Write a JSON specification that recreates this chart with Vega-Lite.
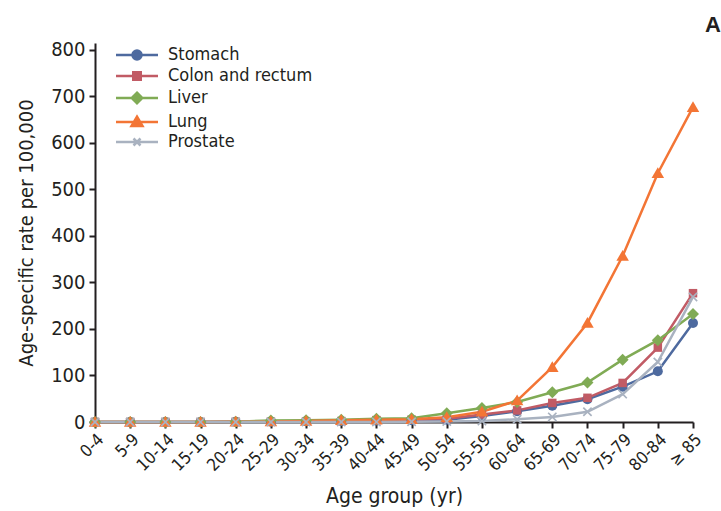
{
  "$schema": "https://vega.github.io/schema/vega-lite/v6.json",
  "width": 598,
  "height": 379,
  "autosize": {"type": "none"},
  "padding": {"left": 95, "top": 43, "right": 28, "bottom": 89},
  "background": "white",
  "title": {"text": "A", "anchor": "end", "frame": "group", "dx": 28, "offset": 3, "fontSize": 22, "fontWeight": "bold", "font": "Liberation Sans", "color": "#231f20"},
  "config": {
    "view": {"stroke": null},
    "font": "'Liberation Sans Narrow', 'DejaVu Sans Condensed', 'Roboto Condensed', Roboto, sans-serif",
    "axis": {"domainColor": "#231f20", "domainWidth": 2, "tickColor": "#231f20", "tickWidth": 2, "tickSize": 6, "labelColor": "#231f20", "titleColor": "#231f20", "labelFont": "'Liberation Sans Narrow', 'DejaVu Sans Condensed', 'Roboto Condensed', Roboto, sans-serif", "titleFont": "'Liberation Sans Narrow', 'DejaVu Sans Condensed', 'Roboto Condensed', Roboto, sans-serif", "titleFontWeight": "normal", "grid": false}
  },
  "data": {"values": [
    {"age": "0-4", "cancer": "Stomach", "rate": 0},
    {"age": "5-9", "cancer": "Stomach", "rate": 0},
    {"age": "10-14", "cancer": "Stomach", "rate": 0},
    {"age": "15-19", "cancer": "Stomach", "rate": 0},
    {"age": "20-24", "cancer": "Stomach", "rate": 0.3},
    {"age": "25-29", "cancer": "Stomach", "rate": 0.8},
    {"age": "30-34", "cancer": "Stomach", "rate": 1.5},
    {"age": "35-39", "cancer": "Stomach", "rate": 2},
    {"age": "40-44", "cancer": "Stomach", "rate": 3},
    {"age": "45-49", "cancer": "Stomach", "rate": 4},
    {"age": "50-54", "cancer": "Stomach", "rate": 5},
    {"age": "55-59", "cancer": "Stomach", "rate": 13},
    {"age": "60-64", "cancer": "Stomach", "rate": 23},
    {"age": "65-69", "cancer": "Stomach", "rate": 35},
    {"age": "70-74", "cancer": "Stomach", "rate": 49},
    {"age": "75-79", "cancer": "Stomach", "rate": 76},
    {"age": "80-84", "cancer": "Stomach", "rate": 109},
    {"age": "≥ 85", "cancer": "Stomach", "rate": 213},
    {"age": "0-4", "cancer": "Colon and rectum", "rate": 0},
    {"age": "5-9", "cancer": "Colon and rectum", "rate": 0},
    {"age": "10-14", "cancer": "Colon and rectum", "rate": 0},
    {"age": "15-19", "cancer": "Colon and rectum", "rate": 0},
    {"age": "20-24", "cancer": "Colon and rectum", "rate": 0.3},
    {"age": "25-29", "cancer": "Colon and rectum", "rate": 0.7},
    {"age": "30-34", "cancer": "Colon and rectum", "rate": 1.2},
    {"age": "35-39", "cancer": "Colon and rectum", "rate": 2},
    {"age": "40-44", "cancer": "Colon and rectum", "rate": 4},
    {"age": "45-49", "cancer": "Colon and rectum", "rate": 5},
    {"age": "50-54", "cancer": "Colon and rectum", "rate": 7},
    {"age": "55-59", "cancer": "Colon and rectum", "rate": 16},
    {"age": "60-64", "cancer": "Colon and rectum", "rate": 25},
    {"age": "65-69", "cancer": "Colon and rectum", "rate": 41},
    {"age": "70-74", "cancer": "Colon and rectum", "rate": 52},
    {"age": "75-79", "cancer": "Colon and rectum", "rate": 84},
    {"age": "80-84", "cancer": "Colon and rectum", "rate": 160},
    {"age": "≥ 85", "cancer": "Colon and rectum", "rate": 277},
    {"age": "0-4", "cancer": "Liver", "rate": 0},
    {"age": "5-9", "cancer": "Liver", "rate": 0},
    {"age": "10-14", "cancer": "Liver", "rate": 0},
    {"age": "15-19", "cancer": "Liver", "rate": 0.2},
    {"age": "20-24", "cancer": "Liver", "rate": 0.8},
    {"age": "25-29", "cancer": "Liver", "rate": 3},
    {"age": "30-34", "cancer": "Liver", "rate": 4},
    {"age": "35-39", "cancer": "Liver", "rate": 5},
    {"age": "40-44", "cancer": "Liver", "rate": 7},
    {"age": "45-49", "cancer": "Liver", "rate": 8},
    {"age": "50-54", "cancer": "Liver", "rate": 19},
    {"age": "55-59", "cancer": "Liver", "rate": 30},
    {"age": "60-64", "cancer": "Liver", "rate": 43},
    {"age": "65-69", "cancer": "Liver", "rate": 64},
    {"age": "70-74", "cancer": "Liver", "rate": 85},
    {"age": "75-79", "cancer": "Liver", "rate": 134},
    {"age": "80-84", "cancer": "Liver", "rate": 176},
    {"age": "≥ 85", "cancer": "Liver", "rate": 232},
    {"age": "0-4", "cancer": "Lung", "rate": 0},
    {"age": "5-9", "cancer": "Lung", "rate": 0},
    {"age": "10-14", "cancer": "Lung", "rate": 0},
    {"age": "15-19", "cancer": "Lung", "rate": 0},
    {"age": "20-24", "cancer": "Lung", "rate": 0.3},
    {"age": "25-29", "cancer": "Lung", "rate": 1},
    {"age": "30-34", "cancer": "Lung", "rate": 2},
    {"age": "35-39", "cancer": "Lung", "rate": 3.5},
    {"age": "40-44", "cancer": "Lung", "rate": 5},
    {"age": "45-49", "cancer": "Lung", "rate": 6},
    {"age": "50-54", "cancer": "Lung", "rate": 10},
    {"age": "55-59", "cancer": "Lung", "rate": 22},
    {"age": "60-64", "cancer": "Lung", "rate": 46},
    {"age": "65-69", "cancer": "Lung", "rate": 118},
    {"age": "70-74", "cancer": "Lung", "rate": 213},
    {"age": "75-79", "cancer": "Lung", "rate": 357},
    {"age": "80-84", "cancer": "Lung", "rate": 535},
    {"age": "≥ 85", "cancer": "Lung", "rate": 677},
    {"age": "0-4", "cancer": "Prostate", "rate": 0},
    {"age": "5-9", "cancer": "Prostate", "rate": 0},
    {"age": "10-14", "cancer": "Prostate", "rate": 0},
    {"age": "15-19", "cancer": "Prostate", "rate": 0},
    {"age": "20-24", "cancer": "Prostate", "rate": 0},
    {"age": "25-29", "cancer": "Prostate", "rate": 0},
    {"age": "30-34", "cancer": "Prostate", "rate": 0},
    {"age": "35-39", "cancer": "Prostate", "rate": 0},
    {"age": "40-44", "cancer": "Prostate", "rate": 0.2},
    {"age": "45-49", "cancer": "Prostate", "rate": 0.5},
    {"age": "50-54", "cancer": "Prostate", "rate": 1},
    {"age": "55-59", "cancer": "Prostate", "rate": 2},
    {"age": "60-64", "cancer": "Prostate", "rate": 6},
    {"age": "65-69", "cancer": "Prostate", "rate": 11},
    {"age": "70-74", "cancer": "Prostate", "rate": 22},
    {"age": "75-79", "cancer": "Prostate", "rate": 60},
    {"age": "80-84", "cancer": "Prostate", "rate": 129},
    {"age": "≥ 85", "cancer": "Prostate", "rate": 269}
  ]},
  "encoding": {
    "x": {"field": "age", "type": "ordinal", "sort": null,
      "scale": {"type": "point", "padding": 0},
      "axis": {"title": "Age group (yr)", "labelAngle": -45, "labelFontSize": 17, "titleFontSize": 21, "labelPadding": 3, "titlePadding": 12}},
    "y": {"field": "rate", "type": "quantitative",
      "scale": {"domain": [0, 815], "nice": false},
      "axis": {"title": "Age-specific rate per 100,000", "values": [0, 100, 200, 300, 400, 500, 600, 700, 800], "labelFontSize": 20, "titleFontSize": 20, "labelPadding": 4, "titlePadding": 14}}
  },
  "layer": [
    {"mark": {"type": "line", "strokeWidth": 2.5},
     "encoding": {"color": {"field": "cancer", "type": "nominal", "legend": null,
       "scale": {"domain": ["Stomach", "Colon and rectum", "Liver", "Lung", "Prostate"], "range": ["#4e6a9f", "#c15b65", "#80ab55", "#f37535", "#a9b2c0"]}}}},
    {"transform": [{"filter": "datum.cancer === 'Stomach'"}],
     "mark": {"type": "point", "filled": true, "opacity": 1, "size": 100, "shape": "circle", "color": "#4e6a9f"}},
    {"transform": [{"filter": "datum.cancer === 'Colon and rectum'"}],
     "mark": {"type": "point", "filled": true, "opacity": 1, "size": 100, "shape": "M-0.85,-0.85H0.85V0.85H-0.85Z", "color": "#c15b65"}},
    {"transform": [{"filter": "datum.cancer === 'Liver'"}],
     "mark": {"type": "point", "filled": true, "opacity": 1, "size": 100, "shape": "M0,-1.2L1.2,0L0,1.2L-1.2,0Z", "color": "#80ab55"}},
    {"transform": [{"filter": "datum.cancer === 'Lung'"}],
     "mark": {"type": "point", "filled": true, "opacity": 1, "size": 100, "shape": "M0,-1.2L1.25,0.95L-1.25,0.95Z", "color": "#f37535"}},
    {"transform": [{"filter": "datum.cancer === 'Prostate'"}],
     "mark": {"type": "point", "filled": true, "opacity": 1, "size": 90, "shape": "M0,-0.25L0.75,-1L1,-0.75L0.25,0L1,0.75L0.75,1L0,0.25L-0.75,1L-1,0.75L-0.25,0L-1,-0.75L-0.75,-1Z", "color": "#a9b2c0"}},
    {
      "mark": {"type": "point", "filled": true, "fillOpacity": 0, "strokeOpacity": 0, "size": 100},
      "encoding": {
        "fill": {"field": "cancer", "type": "nominal",
          "scale": {"domain": ["Stomach", "Colon and rectum", "Liver", "Lung", "Prostate"], "range": ["#4e6a9f", "#c15b65", "#80ab55", "#f37535", "#a9b2c0"]},
          "legend": {"title": null, "orient": "none", "legendX": 33, "legendY": 3, "symbolSize": 100, "symbolStrokeWidth": 2.5, "symbolOpacity": 1, "symbolFillColor": null, "labelOffset": 22, "labelFontSize": 18, "labelColor": "#231f20", "rowPadding": 2}},
        "stroke": {"field": "cancer", "type": "nominal",
          "scale": {"domain": ["Stomach", "Colon and rectum", "Liver", "Lung", "Prostate"], "range": ["#4e6a9f", "#c15b65", "#80ab55", "#f37535", "#a9b2c0"]},
          "legend": {"title": null, "orient": "none", "legendX": 33, "legendY": 3, "symbolSize": 100, "symbolStrokeWidth": 2.5, "symbolOpacity": 1, "labelOffset": 22, "labelFontSize": 18, "labelColor": "#231f20", "rowPadding": 2}},
        "shape": {"field": "cancer", "type": "nominal",
          "scale": {"domain": ["Stomach", "Colon and rectum", "Liver", "Lung", "Prostate"], "range": [
            "M-4.2,0H4.2M-0.9,0A0.9,0.9,0,1,1,0.9,0A0.9,0.9,0,1,1,-0.9,0Z",
            "M-4.2,0H4.2M-0.75,-0.75H0.75V0.75H-0.75Z",
            "M-4.2,0H4.2M0,-1.05L1.05,0L0,1.05L-1.05,0Z",
            "M-4.2,0H4.2M0,-1.05L1.1,0.8L-1.1,0.8Z",
            "M-4.2,0H4.2M-0.7,-0.7L0.7,0.7M-0.7,0.7L0.7,-0.7"]},
          "legend": {"title": null, "orient": "none", "legendX": 33, "legendY": 3, "symbolSize": 100, "symbolStrokeWidth": 2.5, "symbolOpacity": 1, "labelOffset": 22, "labelFontSize": 18, "labelColor": "#231f20", "rowPadding": 2}}
      }
    }
  ],
  "resolve": {"legend": {"fill": "independent", "stroke": "independent", "shape": "independent"}}
}
